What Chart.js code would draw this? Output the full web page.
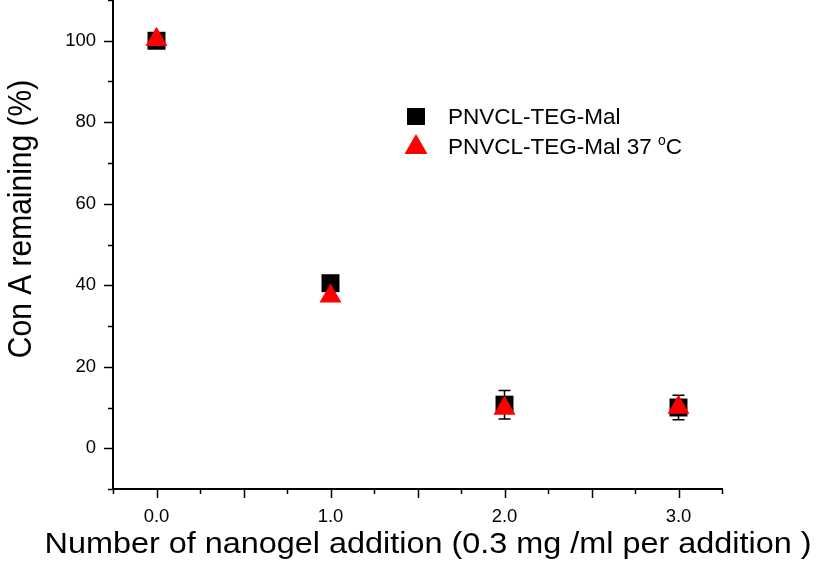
<!DOCTYPE html>
<html>
<head>
<meta charset="utf-8">
<script src="https://cdn.jsdelivr.net/npm/chart.js@4/dist/chart.umd.min.js"></script>
<style>
  html, body { margin: 0; padding: 0; background: #fff; }
  #wrap { width: 816px; height: 567px; }
</style>
</head>
<body>
<div id="wrap"><canvas id="chart" width="816" height="567"></canvas></div>
<script>
// data
const additions = [0, 1, 2, 3];
const malRoom = [100.0, 40.5, 10.7, 10.0];
const malRoomErr = [0, 0, 3.5, 3.0];
const mal37 = [100.3, 37.3, 9.8, 10.0];
const mal37Err = [0, 0, 0, 0];
const seriesNames = ['PNVCL-TEG-Mal', 'PNVCL-TEG-Mal 37 '];
const xTitle = 'Number of nanogel addition (0.3 mg /ml per addition )';
const yTitle = 'Con A remaining (%)';

const FONT = "'Liberation Sans', Arial, sans-serif";
const STRETCH = 1.08; // the original figure is a bit wider than tall

// error bars, minor/major ticks, axis titles and the inset legend
const extras = {
  id: 'extras',
  beforeDatasetsDraw(chart) {
    const ctx = chart.ctx;
    const xs = chart.scales.x, ys = chart.scales.y;
    ctx.save();
    chart.data.datasets.forEach(ds => {
      ctx.strokeStyle = ds.errColor;
      ctx.lineWidth = 1.5;
      ds.data.forEach((p, i) => {
        const e = ds.errors[i];
        if (!e) return;
        const px = xs.getPixelForValue(p.x);
        const top = ys.getPixelForValue(p.y + e);
        const bot = ys.getPixelForValue(p.y - e);
        ctx.beginPath();
        ctx.moveTo(px, top); ctx.lineTo(px, bot);
        ctx.moveTo(px - 6, top); ctx.lineTo(px + 6, top);
        ctx.moveTo(px - 6, bot); ctx.lineTo(px + 6, bot);
        ctx.stroke();
      });
    });
    ctx.restore();
  },
  afterDraw(chart) {
    const ctx = chart.ctx;
    const xs = chart.scales.x, ys = chart.scales.y;
    const area = chart.chartArea;
    ctx.save();
    ctx.strokeStyle = '#000';
    ctx.lineWidth = 1.5;
    // x ticks every 0.25, long ones every 0.5
    for (let v = xs.min; v <= xs.max + 1e-9; v += 0.25) {
      const px = Math.round(xs.getPixelForValue(v)) + 0.5;
      const len = Math.abs(v * 2 - Math.round(v * 2)) < 1e-6 ? 9 : 5;
      ctx.beginPath();
      ctx.moveTo(px, area.bottom); ctx.lineTo(px, area.bottom + len);
      ctx.stroke();
    }
    // y ticks every 10, long ones every 20
    for (let v = ys.min; v <= ys.max + 1e-9; v += 10) {
      const py = Math.round(ys.getPixelForValue(v)) + 0.5;
      const len = Math.abs(v % 20) < 1e-6 ? 9 : 5;
      ctx.beginPath();
      ctx.moveTo(area.left, py); ctx.lineTo(area.left - len, py);
      ctx.stroke();
    }

    // axis titles
    ctx.fillStyle = '#000';
    ctx.font = '30px ' + FONT;
    ctx.textAlign = 'center';
    ctx.textBaseline = 'alphabetic';
    ctx.save();
    ctx.translate(428, 553);
    ctx.scale(767 / ctx.measureText(xTitle).width, 1);
    ctx.fillText(xTitle, 0, 0);
    ctx.restore();

    ctx.save();
    ctx.translate(31, 219);
    ctx.scale(STRETCH, 1);
    ctx.rotate(-Math.PI / 2);
    ctx.fillText(yTitle, 0, 0);
    ctx.restore();

    // legend
    const lx = 416;
    ctx.fillStyle = '#000';
    ctx.fillRect(lx - 9, 108, 18, 17);
    ctx.fillStyle = '#ff0000';
    ctx.beginPath();
    ctx.moveTo(lx, 134);
    ctx.lineTo(lx + 11.5, 154);
    ctx.lineTo(lx - 11.5, 154);
    ctx.closePath();
    ctx.fill();

    ctx.fillStyle = '#000';
    ctx.font = '22.5px ' + FONT;
    ctx.textAlign = 'left';
    ctx.fillText(seriesNames[0], 448, 124);
    ctx.fillText(seriesNames[1], 448, 154);
    let w = ctx.measureText(seriesNames[1]).width;
    ctx.font = '14px ' + FONT;
    ctx.fillText('o', 448 + w, 145);
    w += ctx.measureText('o').width;
    ctx.font = '22.5px ' + FONT;
    ctx.fillText('C', 448 + w, 154);
    ctx.restore();
  }
};

const toPoints = arr => arr.map((v, i) => ({ x: additions[i], y: v }));

new Chart(document.getElementById('chart'), {
  type: 'scatter',
  data: {
    datasets: [
      {
        label: seriesNames[0],
        data: toPoints(malRoom),
        errors: malRoomErr,
        errColor: '#000',
        pointStyle: 'rect',
        pointRadius: 12.7,
        pointHoverRadius: 12.7,
        backgroundColor: '#000',
        borderColor: '#000',
        borderWidth: 0,
        order: 1
      },
      {
        label: seriesNames[1],
        data: toPoints(mal37),
        errors: mal37Err,
        errColor: '#ff0000',
        pointStyle: 'triangle',
        pointRadius: 12.7,
        pointHoverRadius: 12.7,
        backgroundColor: '#ff0000',
        borderColor: '#ff0000',
        borderWidth: 0,
        order: 0
      }
    ]
  },
  options: {
    responsive: false,
    animation: false,
    devicePixelRatio: 1,
    layout: { autoPadding: false, padding: { left: 0, right: 94, top: 0, bottom: 0 } },
    plugins: {
      legend: { display: false },
      tooltip: { enabled: false }
    },
    scales: {
      x: {
        type: 'linear',
        min: -0.25,
        max: 3.25,
        afterFit: s => { s.height = 78; s.paddingLeft = 0; s.paddingRight = 0; },
        grid: { display: false, drawTicks: false },
        border: { display: true, color: '#000', width: 2 },
        ticks: {
          stepSize: 0.25,
          padding: 17,
          color: '#000',
          font: { family: FONT, size: 18.5 },
          autoSkip: false,
          maxRotation: 0,
          callback: v => Math.abs(v - Math.round(v)) < 1e-6 ? v.toFixed(1) : ''
        },
        title: { display: false }
      },
      y: {
        type: 'linear',
        min: -10,
        max: 110,
        afterFit: s => { s.width = 113; s.paddingTop = 0; s.paddingBottom = 0; },
        grid: { display: false, drawTicks: false },
        border: { display: true, color: '#000', width: 2 },
        ticks: {
          stepSize: 10,
          padding: 17,
          color: '#000',
          font: { family: FONT, size: 18.5 },
          autoSkip: false,
          callback: v => (v % 20 === 0 && v >= 0 && v <= 100) ? String(v) : ''
        },
        title: { display: false }
      }
    }
  },
  plugins: [extras]
});
</script>
</body>
</html>
